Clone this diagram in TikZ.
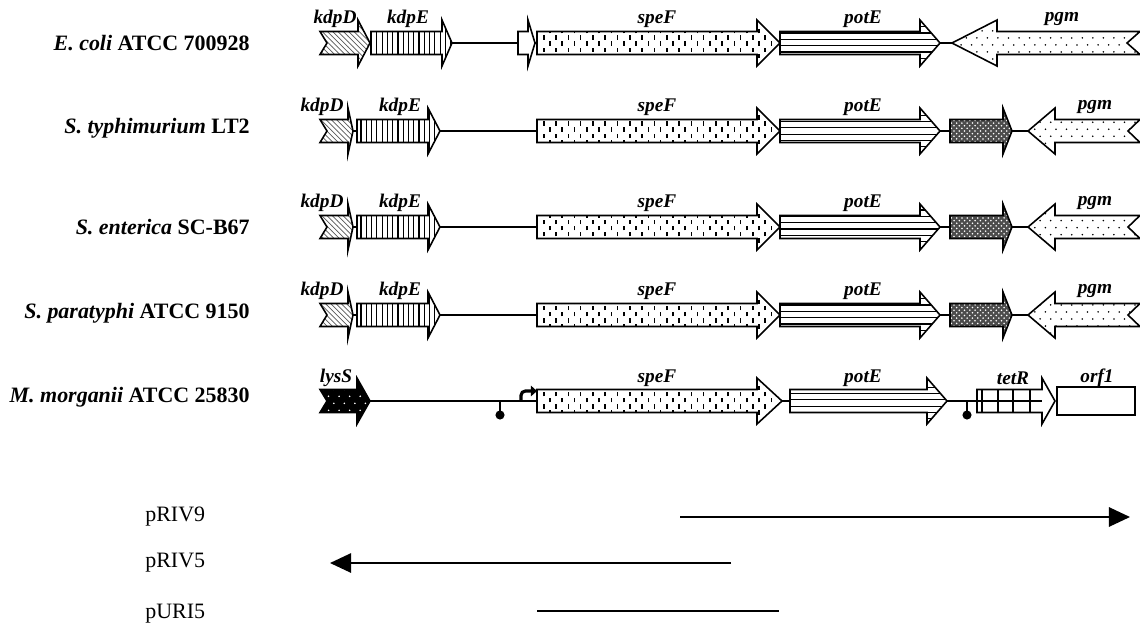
\documentclass[tikz,border=0pt]{standalone}
\usepackage{fontspec}
\setmainfont{Liberation Serif}
\usetikzlibrary{patterns,arrows.meta}

% fills of the gene arrows
\pgfdeclarepatternformonly{speticks}{\pgfqpoint{-1pt}{-1pt}}{\pgfqpoint{8pt}{8pt}}{\pgfqpoint{7pt}{7pt}}{
  \pgfsetlinewidth{0.9pt}
  \pgfpathmoveto{\pgfqpoint{1.5pt}{4pt}}\pgfpathlineto{\pgfqpoint{1.5pt}{6.5pt}}
  \pgfpathmoveto{\pgfqpoint{5pt}{0.5pt}}\pgfpathlineto{\pgfqpoint{5pt}{3pt}}
  \pgfusepath{stroke}}
\pgfdeclarepatternformonly{thindots}{\pgfqpoint{-1pt}{-1pt}}{\pgfqpoint{7pt}{9pt}}{\pgfqpoint{6pt}{8pt}}{
  \pgfpathcircle{\pgfqpoint{1pt}{1pt}}{0.5pt}
  \pgfpathcircle{\pgfqpoint{4pt}{5pt}}{0.5pt}
  \pgfusepath{fill}}
\pgfdeclarepatternformonly{vbars}{\pgfqpoint{-1pt}{-1pt}}{\pgfqpoint{4pt}{4pt}}{\pgfqpoint{3pt}{3pt}}{
  \pgfsetlinewidth{0.7pt}
  \pgfpathmoveto{\pgfqpoint{1.5pt}{-0.5pt}}\pgfpathlineto{\pgfqpoint{1.5pt}{3.5pt}}
  \pgfusepath{stroke}}
\pgfdeclarepatternformonly{hbars}{\pgfqpoint{-1pt}{-1pt}}{\pgfqpoint{4.6pt}{4.6pt}}{\pgfqpoint{3.6pt}{3.6pt}}{
  \pgfsetlinewidth{0.7pt}
  \pgfpathmoveto{\pgfqpoint{-0.5pt}{1.8pt}}\pgfpathlineto{\pgfqpoint{4.1pt}{1.8pt}}
  \pgfusepath{stroke}}

% gene arrows: style, tail, body end, tip, row, notch
\newcommand{\fwdgene}[6]{
  \draw[#1] (#2,#5-11.5) -- (#3,#5-11.5) -- (#3,#5-23) -- (#4,#5) -- (#3,#5+23)
    -- (#3,#5+11.5) -- (#2,#5+11.5) -- (#2+#6,#5) -- cycle;}
% style, tip, head base, tail, row, notch
\newcommand{\revgene}[6]{
  \draw[#1] (#4,#5-11.5) -- (#3,#5-11.5) -- (#3,#5-23) -- (#2,#5) -- (#3,#5+23)
    -- (#3,#5+11.5) -- (#4,#5+11.5) -- (#4-#6,#5) -- cycle;}

\begin{document}
\begin{tikzpicture}[x=0.02cm, y=-0.02cm,
    gene/.style={draw=black, line width=0.9pt, line join=miter, preaction={fill=white}},
    backbone/.style={line width=0.9pt},
    genelabel/.style={inner sep=0pt, font=\fontsize{11}{13}\selectfont\bfseries\itshape},
    strain/.style={anchor=east, inner sep=0pt, font=\fontsize{12.5}{14}\selectfont\bfseries},
    clone/.style={line width=1.1pt},
    clonelabel/.style={anchor=west, inner sep=0pt, font=\fontsize{12.5}{14}\selectfont}]
        \useasboundingbox (0,0) rectangle (1140,637);

        % E. coli
        \node[strain] (ecoli) at (250,43) {\textit{E. coli} ATCC 700928};
        \coordinate (r1w) at (360,43);
        \coordinate (r1e) at (960,43);
        \draw[backbone] (r1w) -- (r1e);
        \fwdgene{gene, pattern=north west lines, pattern color=black!65}{320}{358}{370}{43}{7}
        \fwdgene{gene, pattern=vbars}{371}{442}{452}{43}{0}
        \fwdgene{gene}{518}{528}{535}{43}{0}
        \fwdgene{gene, pattern=speticks}{537}{757}{780}{43}{0}
        \fwdgene{gene, pattern=hbars}{780}{920}{940}{43}{0}
        \revgene{gene, pattern=thindots}{952}{997}{1140}{43}{13}
        \node[genelabel] (kdpD1) at (335,19) {kdpD};
        \node[genelabel] (kdpE1) at (408,19) {kdpE};
        \node[genelabel] (speF1) at (657,19) {speF};
        \node[genelabel] (potE1) at (863,19) {potE};
        \node[genelabel] (pgm1) at (1062,19) {pgm};

        % S. typhimurium
        \node[strain] (styph) at (250,128) {\textit{S. typhimurium} LT2};
        \coordinate (r2w) at (350,131);
        \coordinate (r2e) at (1035,131);
        \draw[backbone] (r2w) -- (r2e);
        \fwdgene{gene, pattern=north west lines, pattern color=black!65}{320}{348}{353}{131}{7}
        \fwdgene{gene, pattern=vbars}{357}{428}{440}{131}{0}
        \fwdgene{gene, pattern=speticks}{537}{757}{780}{131}{0}
        \fwdgene{gene, pattern=hbars}{780}{920}{940}{131}{0}
        \fwdgene{gene, preaction={fill=black!70}, pattern=crosshatch dots, pattern color=white}{950}{1003}{1012}{131}{0}
        \revgene{gene, pattern=thindots}{1028}{1055}{1140}{131}{12}
        \node[genelabel] (kdpD2) at (322,107) {kdpD};
        \node[genelabel] (kdpE2) at (400,107) {kdpE};
        \node[genelabel] (speF2) at (657,107) {speF};
        \node[genelabel] (potE2) at (863,107) {potE};
        \node[genelabel] (pgm2) at (1095,107) {pgm};

        % S. enterica
        \node[strain] (sent) at (250,227) {\textit{S. enterica} SC-B67};
        \coordinate (r3w) at (350,227);
        \coordinate (r3e) at (1035,227);
        \draw[backbone] (r3w) -- (r3e);
        \fwdgene{gene, pattern=north west lines, pattern color=black!65}{320}{348}{353}{227}{7}
        \fwdgene{gene, pattern=vbars}{357}{428}{440}{227}{0}
        \fwdgene{gene, pattern=speticks}{537}{757}{780}{227}{0}
        \fwdgene{gene, pattern=hbars}{780}{920}{940}{227}{0}
        \fwdgene{gene, preaction={fill=black!70}, pattern=crosshatch dots, pattern color=white}{950}{1003}{1012}{227}{0}
        \revgene{gene, pattern=thindots}{1028}{1055}{1140}{227}{12}
        \node[genelabel] (kdpD3) at (322,203) {kdpD};
        \node[genelabel] (kdpE3) at (400,203) {kdpE};
        \node[genelabel] (speF3) at (657,203) {speF};
        \node[genelabel] (potE3) at (863,203) {potE};
        \node[genelabel] (pgm3) at (1095,203) {pgm};

        % S. paratyphi
        \node[strain] (spara) at (250,313) {\textit{S. paratyphi} ATCC 9150};
        \coordinate (r4w) at (350,315);
        \coordinate (r4e) at (1035,315);
        \draw[backbone] (r4w) -- (r4e);
        \fwdgene{gene, pattern=north west lines, pattern color=black!65}{320}{348}{353}{315}{7}
        \fwdgene{gene, pattern=vbars}{357}{428}{440}{315}{0}
        \fwdgene{gene, pattern=speticks}{537}{757}{780}{315}{0}
        \fwdgene{gene, pattern=hbars}{780}{920}{940}{315}{0}
        \fwdgene{gene, preaction={fill=black!70}, pattern=crosshatch dots, pattern color=white}{950}{1003}{1012}{315}{0}
        \revgene{gene, pattern=thindots}{1028}{1055}{1140}{315}{12}
        \node[genelabel] (kdpD4) at (322,291) {kdpD};
        \node[genelabel] (kdpE4) at (400,291) {kdpE};
        \node[genelabel] (speF4) at (657,291) {speF};
        \node[genelabel] (potE4) at (863,291) {potE};
        \node[genelabel] (pgm4) at (1095,291) {pgm};

        % M. morganii
        \node[strain] (mmorg) at (250,397) {\textit{M. morganii} ATCC 25830};
        \coordinate (r5w) at (360,401);
        \coordinate (r5e) at (985,401);
        \draw[backbone] (r5w) -- (r5e);
        \fwdgene{gene, preaction={fill=black}, pattern=thindots, pattern color=white}{320}{357}{370}{401}{7}
        \fwdgene{gene, pattern=speticks}{537}{757}{782}{401}{0}
        \fwdgene{gene, pattern=hbars}{790}{927}{947}{401}{0}
        \fwdgene{gene}{977}{1042}{1055}{401}{0}
        \foreach \x in {982,998,1013,1030}
            \draw[line width=0.8pt] (\x,390) -- (\x,412);
        \draw[line width=0.8pt] (977,401) -- (1042,401);
        \draw[gene] (1057,387) rectangle (1135,415);
        % terminators and promoter
        \draw[backbone] (500,401) -- (500,411);
        \fill (500,415) circle (2.6pt);
        \draw[backbone] (967,401) -- (967,411);
        \fill (967,415) circle (2.6pt);
        \draw[line width=1.8pt, rounded corners=2.5pt, -{Triangle[length=3.5pt,width=6pt]}] (521,401) |- (537,391);
        \node[genelabel] (lysS5) at (336,378) {lysS};
        \node[genelabel] (speF5) at (657,378) {speF};
        \node[genelabel] (potE5) at (863,378) {potE};
        \node[genelabel] (tetR5) at (1013,378) {tetR};
        \node[genelabel] (orf15) at (1097,378) {orf1};

        % clones
        \node[clonelabel] (priv9) at (145,517) {pRIV9};
        \coordinate (p9a) at (680,517);
        \coordinate (p9b) at (1130,517);
        \draw[clone, -{Triangle[length=12pt,width=11pt]}] (p9a) -- (p9b);

        \node[clonelabel] (priv5) at (145,563) {pRIV5};
        \coordinate (p5a) at (731,563);
        \coordinate (p5b) at (330,563);
        \draw[clone, -{Triangle[length=12pt,width=11pt]}] (p5a) -- (p5b);

        \node[clonelabel] (puri5) at (145,614) {pURI5};
        \coordinate (u5a) at (537,611);
        \coordinate (u5b) at (779,611);
        \draw[clone] (u5a) -- (u5b);

    \end{tikzpicture}
\end{document}
